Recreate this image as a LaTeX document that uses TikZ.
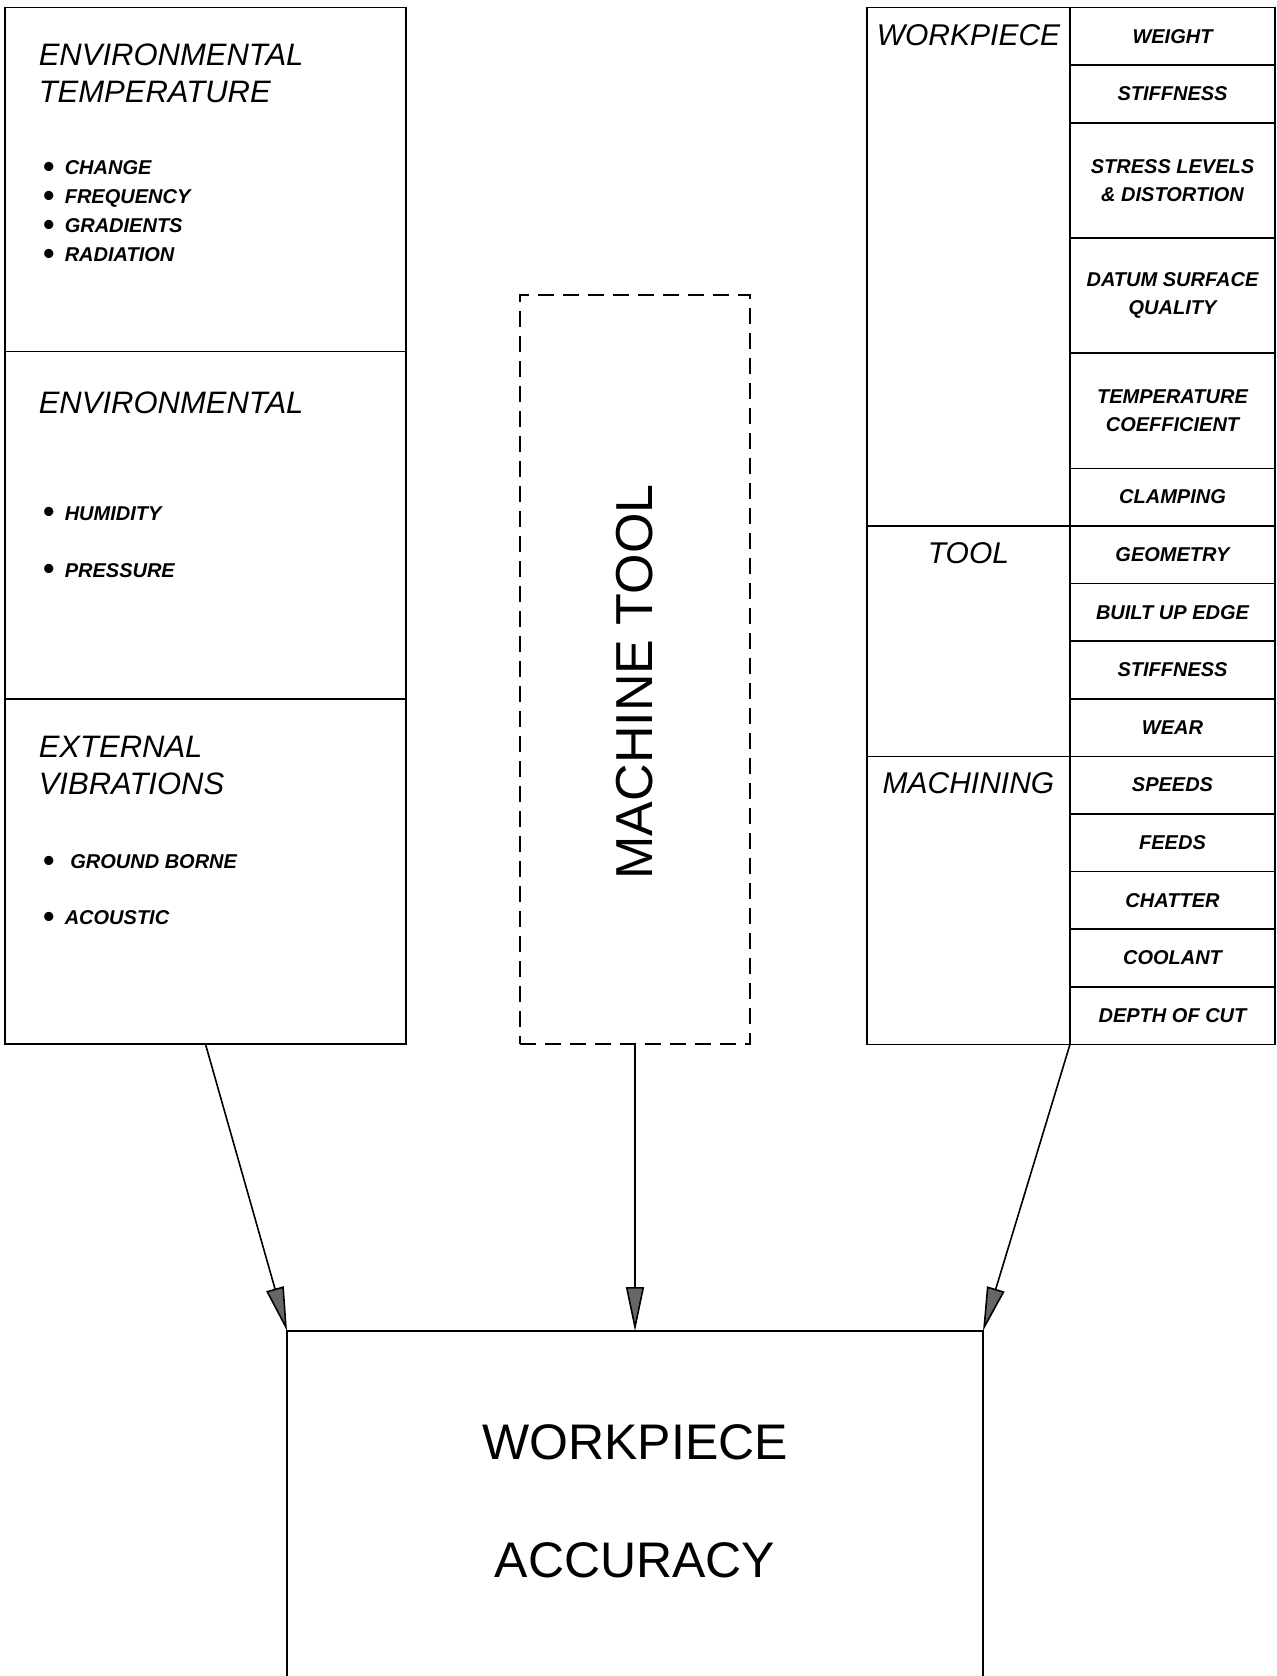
\documentclass[tikz,border=0pt]{standalone}
\usepackage{fontspec}
\setmainfont{Liberation Sans}
\usepackage{tikz}
\usetikzlibrary{arrows.meta}
\newcommand{\bul}{\makebox[11pt][l]{\raisebox{-1.2pt}{\fontsize{16}{16}\selectfont\textbullet}}}

\begin{document}
\begin{tikzpicture}[x=0.5pt,y=-0.5pt,line width=0.8pt,
        box/.style={draw,rectangle,inner sep=0pt,outer sep=0pt},
        head/.style={font=\fontsize{15.5}{18.5}\selectfont\itshape,anchor=north west,align=left,inner sep=0pt},
        title/.style={font=\fontsize{15}{18.5}\selectfont\itshape,anchor=north,inner sep=0pt},
        item/.style={font=\fontsize{10}{14.5}\selectfont\bfseries\itshape,anchor=north west,align=left,inner sep=0pt},
        cell/.style={box,minimum width=102.5pt,minimum height=28.8pt,font=\fontsize{10}{14}\selectfont\bfseries\itshape,align=center},
        dcell/.style={cell,minimum height=57.6pt},
        big/.style={font=\fontsize{25}{30}\selectfont,inner sep=0pt},
        tip/.style={-{Triangle[length=22pt,width=9pt,fill=black!60]}}
    ]
            \useasboundingbox (0,0) rectangle (1277,1676);

            % left column
            \node[box,minimum width=200.5pt,minimum height=172pt]   (envtemp) at (205.5,179.5) {};
            \node[box,minimum width=200.5pt,minimum height=173.7pt] (envhum)  at (205.5,525.3) {};
            \node[box,minimum width=200.5pt,minimum height=172.6pt] (extvib)  at (205.5,871.6) {};

            \node[head] (envtemp-t) at (38,43) {ENVIRONMENTAL\\TEMPERATURE};
            \node[item] (envtemp-i) at (42,160) {\bul CHANGE\\\bul FREQUENCY\\\bul GRADIENTS\\\bul RADIATION};
            \node[head] (envhum-t) at (38,391) {ENVIRONMENTAL};
            \node[item,font=\fontsize{10}{28.5}\selectfont\bfseries\itshape] (envhum-i) at (42,506) {\bul HUMIDITY\\\bul PRESSURE};
            \node[head] (extvib-t) at (38,735) {EXTERNAL\\VIBRATIONS};
            \node[item,font=\fontsize{10}{28}\selectfont\bfseries\itshape] (extvib-i) at (42,854) {\bul\ GROUND BORNE\\\bul ACOUSTIC};

            % machine tool
            \node[box,dashed,dash pattern=on 8pt off 4.5pt,minimum width=115pt,minimum height=374.5pt] (mtool) at (635,669.5) {};
            \node[big,font=\fontsize{26}{30}\selectfont,rotate=90] (mtool-t) at (635,682) {MACHINE TOOL};

            % right table
            \node[box,minimum width=101.5pt,minimum height=259.2pt] (wp)   at (968.5,266.7) {};
            \node[box,minimum width=101.5pt,minimum height=115.2pt] (tool) at (968.5,641.1) {};
            \node[box,minimum width=101.5pt,minimum height=144pt]   (mach) at (968.5,900.3) {};
            \node[title] (wp-t)   at (968.5,23.5) {WORKPIECE};
            \node[title] (tool-t) at (968.5,542)  {TOOL};
            \node[title] (mach-t) at (968.5,772)  {MACHINING};

            \node[cell]  (weight)  at (1172.5,36.3)  {WEIGHT};
            \node[cell]  (stiffa)  at (1172.5,93.9)  {STIFFNESS};
            \node[dcell] (stress)  at (1172.5,180.3) {STRESS LEVELS\\\& DISTORTION};
            \node[dcell] (datum)   at (1172.5,295.5) {DATUM SURFACE\\QUALITY};
            \node[dcell] (tempco)  at (1172.5,410.7) {TEMPERATURE\\COEFFICIENT};
            \node[cell]  (clamp)   at (1172.5,497.1) {CLAMPING};
            \node[cell]  (geom)    at (1172.5,554.7) {GEOMETRY};
            \node[cell]  (bue)     at (1172.5,612.3) {BUILT UP EDGE};
            \node[cell]  (stiffb)  at (1172.5,669.9) {STIFFNESS};
            \node[cell]  (wear)    at (1172.5,727.5) {WEAR};
            \node[cell]  (speeds)  at (1172.5,785.1) {SPEEDS};
            \node[cell]  (feeds)   at (1172.5,842.7) {FEEDS};
            \node[cell]  (chatter) at (1172.5,900.3) {CHATTER};
            \node[cell]  (coolant) at (1172.5,957.9) {COOLANT};
            \node[cell]  (depth)   at (1172.5,1015.5) {DEPTH OF CUT};

            % workpiece accuracy
            \coordinate (accNW) at (287,1331);
            \coordinate (accN)  at (635,1331);
            \coordinate (accNE) at (983,1331);
            \draw (287,1676) -- (accNW) -- (accNE) -- (983,1676);
            \node[big] (acc-a) at (635,1442) {WORKPIECE};
            \node[big] (acc-b) at (635,1560) {ACCURACY};

            % arrows
            \draw[tip] (extvib.south) -- (accNW);
            \draw[tip] (mtool.south) -- (accN);
            \draw[tip] (mach.south east) -- (accNE);
    \end{tikzpicture}
\end{document}
